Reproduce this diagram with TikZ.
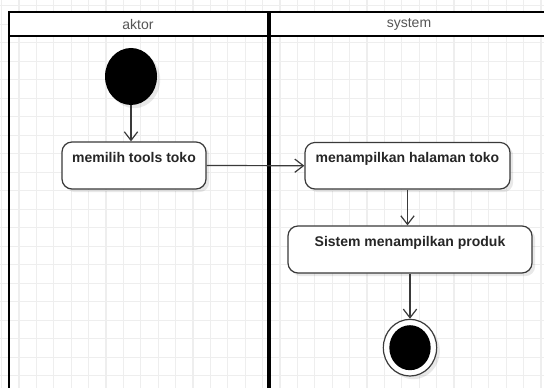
\documentclass[tikz,border=0pt]{standalone}
\usepackage{fontspec}
\setmainfont{Liberation Sans}
\usetikzlibrary{arrows.meta,shapes.geometric,shadows}
\definecolor{gridc}{HTML}{EEEEEE}
\definecolor{edgec}{HTML}{3A3A3A}
\definecolor{hdrtext}{HTML}{555555}
\tikzset{
  gridline/.style={draw=gridc, line width=0.8pt},
  lane/.style={draw=black, line width=1.6pt},
  lanediv/.style={draw=black, line width=2.6pt},
  hdr/.style={font=\fontsize{10.5}{12}\selectfont, text=hdrtext, inner sep=0pt},
  act/.style={draw=edgec, fill=white, line width=0.9pt, rounded corners=7.5pt,
    inner sep=0pt,
    drop shadow={shadow xshift=2.4pt, shadow yshift=-2.4pt, fill=black, opacity=0.09}},
  acttext/.style={font=\bfseries\fontsize{10.5}{12}\selectfont, text=black!85, inner sep=0pt},
  flow/.style={draw=edgec, line width=0.9pt, -{Straight Barb[length=6.5pt,width=10pt]}},
  startnode/.style={ellipse, fill=black, inner sep=0pt,
    drop shadow={shadow xshift=2.4pt, shadow yshift=-2.4pt, fill=black, opacity=0.09}},
  endouter/.style={ellipse, draw=edgec, fill=white, line width=0.9pt, inner sep=0pt,
    drop shadow={shadow xshift=2.4pt, shadow yshift=-2.4pt, fill=black, opacity=0.09}},
  endinner/.style={ellipse, fill=black, inner sep=0pt},
}
\begin{document}
\begin{tikzpicture}[x=0.75pt,y=-0.75pt]
\useasboundingbox (0,0) rectangle (544,388);
\clip (0,0) rectangle (544,388);
\fill[white] (0,0) rectangle (544,388);

% background grid
\foreach \i in {0,...,31} \draw[gridline] ({1.6+17.4*\i},0) -- ++(0,388);
\foreach \j in {0,...,21} \draw[gridline] (0,{5.7+18.5*\j}) -- ++(544,0);

% swimlane pool
\fill[white] (9,12) rectangle (550,36);
\draw[lane] (9,400) -- (9,12) -- (550,12);
\draw[lane] (9,36) -- (550,36);
\draw[lanediv] (269,12) -- (269,400);
\node[hdr] (aktor) at (138,24) {aktor};
\node[hdr] (system) at (409,24) {system};

% initial state
\node[startnode, minimum width=39pt, minimum height=42.75pt] (start) at (131,76.5) {};

% actions
\node[act, minimum width=108pt, minimum height=35.25pt] (b1) at (134,165.5) {};
\node[acttext, anchor=base] (b1t) at (134,163) {memilih tools toko};

\node[act, minimum width=153.75pt, minimum height=34.9pt] (b2) at (407.5,165.75) {};
\node[acttext, anchor=base] (b2t) at (407.5,163) {menampilkan halaman toko};

\node[act, minimum width=183pt, minimum height=35.25pt] (b3) at (410,249.5) {};
\node[acttext, anchor=base] (b3t) at (410,247) {Sistem menampilkan produk};

% final state
\node[endouter, minimum width=40pt, minimum height=42.5pt] (final) at (410,347.7) {};
\node[endinner, minimum width=31pt, minimum height=33.75pt] (finalin) at (final.center) {};

% control flow
\draw[flow] (start) -- (start |- b1.north);
\draw[flow] (b1.east) -- (b2.west);
\draw[flow] (b2.south) -- (b2.south |- b3.north);
\draw[flow] (b3.south) -- (final.north);
\end{tikzpicture}
\end{document}
